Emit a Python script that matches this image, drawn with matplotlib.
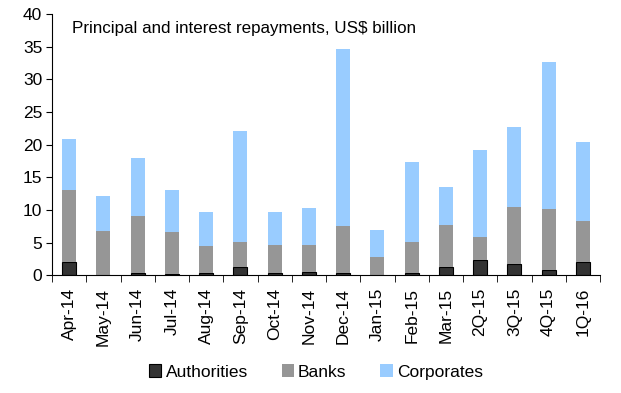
import matplotlib
matplotlib.use("Agg")
import matplotlib.pyplot as plt
import numpy as np

plt.rcParams['font.family'] = ['Liberation Sans', 'DejaVu Sans']

categories = ["Apr-14", "May-14", "Jun-14", "Jul-14", "Aug-14", "Sep-14", "Oct-14", "Nov-14",
              "Dec-14", "Jan-15", "Feb-15", "Mar-15", "2Q-15", "3Q-15", "4Q-15", "1Q-16"]
authorities = [2.0, 0.0, 0.4, 0.2, 0.4, 1.3, 0.4, 0.5, 0.4, 0.0, 0.3, 1.3, 2.35, 1.75, 0.75, 2.1]
banks_top = [13.1, 6.8, 9.1, 6.7, 4.45, 5.15, 4.6, 4.7, 7.55, 2.85, 5.15, 7.7, 5.8, 10.5, 10.2, 8.3]
totals = [20.8, 12.15, 18.0, 13.05, 9.7, 22.05, 9.7, 10.35, 34.6, 6.95, 17.35, 13.5, 19.2, 22.7, 32.6, 20.4]

authorities = np.array(authorities)
banks = np.array(banks_top) - authorities
corporates = np.array(totals) - np.array(banks_top)

fig = plt.figure(figsize=(6.21, 3.93), dpi=100)
ax = fig.add_axes([52/621, 1 - 275.3/393, 548/621, 261.3/393])

x = np.arange(len(categories))
w = 0.41
ax.bar(x, authorities, w, color="#333333", edgecolor="black", linewidth=0.8, label="Authorities")
ax.bar(x, banks, w, bottom=authorities, color="#969696", edgecolor="none", label="Banks")
ax.bar(x, corporates, w, bottom=authorities + banks, color="#99CCFF", edgecolor="none", label="Corporates")

ax.set_xlim(-0.5, len(categories) - 0.5)
ax.set_ylim(0, 40)
ax.set_yticks(range(0, 41, 5))
ax.tick_params(axis='y', labelsize=12.5, length=4, direction='out', pad=3)
ax.set_xticks(x)
ax.set_xticklabels(categories, rotation=90, fontsize=12.5)
ax.tick_params(axis='x', length=0, pad=9)
ax.set_xticks(np.arange(-0.5, len(categories)), minor=True)
ax.tick_params(axis='x', which='minor', length=5, direction='out')
for s in ['top', 'right']:
    ax.spines[s].set_visible(False)

ax.text(20/548, 0.975, "Principal and interest repayments, US$ billion", transform=ax.transAxes,
        fontsize=12.25, va='top', ha='left')

fig.legend(loc='center', bbox_to_anchor=(316/621, 1 - 372/393), ncol=3, frameon=False,
           fontsize=12.5, handlelength=0.7, handleheight=0.7, columnspacing=1.95, handletextpad=0.25)

fig.savefig("out.png", dpi=100)
